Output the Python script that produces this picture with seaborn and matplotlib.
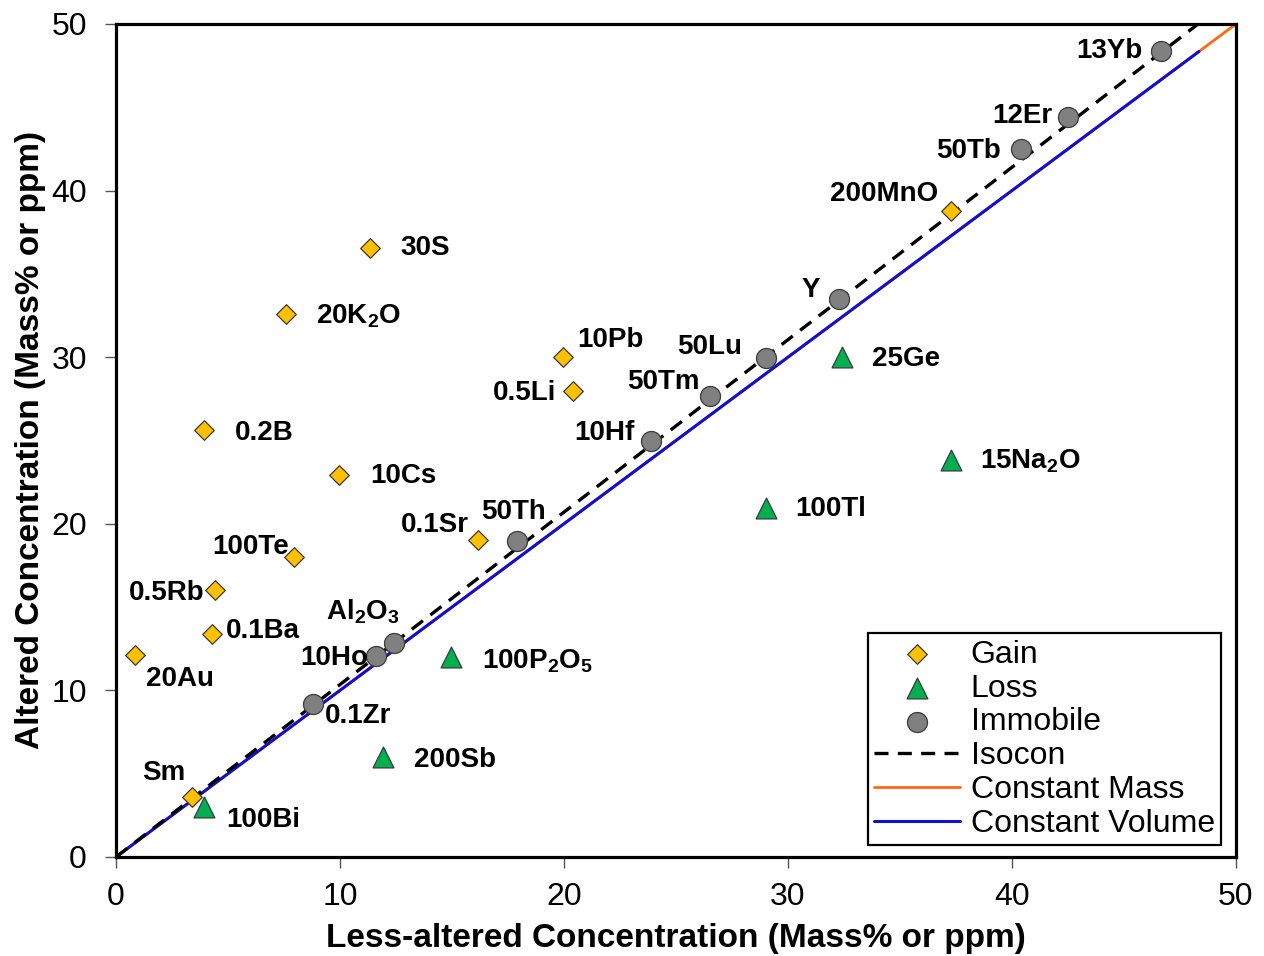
import matplotlib
matplotlib.use("Agg")
import matplotlib.pyplot as plt
import seaborn as sns
import pandas as pd

# ---- data -------------------------------------------------------------
gain_labels = ["30S", "20K$_2$O", "10Pb", "0.5Li", "0.2B", "10Cs", "0.1Sr",
               "100Te", "0.5Rb", "0.1Ba", "20Au", "Sm", "200MnO"]
gain_x = [11.35, 7.6, 19.95, 20.4, 3.93, 9.96, 16.16, 7.95, 4.42, 4.29, 0.85, 3.4, 37.3]
gain_y = [36.55, 32.6, 30.0, 27.97, 25.6, 22.9, 19.0, 18.0, 16.0, 13.4, 12.1, 3.6, 38.8]

loss_labels = ["25Ge", "15Na$_2$O", "100Tl", "100P$_2$O$_5$", "200Sb", "100Bi"]
loss_x = [32.4, 37.3, 29.0, 14.95, 11.9, 3.93]
loss_y = [30.0, 23.8, 20.95, 12.0, 6.0, 3.0]

immobile_labels = ["13Yb", "12Er", "50Tb", "Y", "50Lu", "50Tm", "10Hf",
                   "50Th", "Al$_2$O$_3$", "10Ho", "0.1Zr"]
immobile_x = [46.65, 42.5, 40.4, 32.3, 29.0, 26.5, 23.9, 17.9, 12.4, 11.6, 8.8]
immobile_y = [48.38, 44.4, 42.5, 33.5, 29.95, 27.67, 24.97, 18.97, 12.85, 12.06, 9.18]

isocon_slope = 1.035
isocon_x_end = 48.3
constant_mass_end = 50.0
constant_volume_end = 48.35

axis_ticks = [0, 10, 20, 30, 40, 50]

# ---- label placement (pixel offsets from each marker, alignment) --------
label_offsets = {
    "30S": (30, 0, "left"), "20K$_2$O": (30, -2, "left"), "10Pb": (14, 17, "left"),
    "0.5Li": (-17, -2, "right"), "0.2B": (31, -3, "left"), "10Cs": (31, -1, "left"),
    "0.1Sr": (-9, 15, "right"), "100Te": (-5, 10, "right"), "0.5Rb": (-11, -3, "right"),
    "0.1Ba": (14, 3, "left"), "20Au": (11, -24, "left"), "Sm": (-7, 24, "right"),
    "200MnO": (-13, 17, "right"),
    "25Ge": (30, -2, "left"), "15Na$_2$O": (29, -1, "left"), "100Tl": (30, -1, "left"),
    "100P$_2$O$_5$": (31, -4, "left"), "200Sb": (31, -3, "left"), "100Bi": (22, -13, "left"),
    "13Yb": (-18, 0, "right"), "12Er": (-16, 1, "right"), "50Tb": (-20, -2, "right"),
    "Y": (-19, 9, "right"), "50Lu": (-23, 11, "right"), "50Tm": (-10, 14, "right"),
    "10Hf": (-17, 8, "right"), "50Th": (-3, 29, "center"), "Al$_2$O$_3$": (6, 31, "right"),
    "10Ho": (-8, -2, "right"), "0.1Zr": (12, -12, "left"),
}

# ---- style ----------------------------------------------------------------
sns.set_style("ticks", {"axes.labelcolor": "black", "text.color": "black",
                        "xtick.color": "#555555", "ytick.color": "#555555"})
plt.rcParams["font.family"] = ["Liberation Sans", "DejaVu Sans"]
plt.rcParams["mathtext.fontset"] = "custom"
plt.rcParams["mathtext.rm"] = "Liberation Sans:bold"
plt.rcParams["mathtext.bf"] = "Liberation Sans:bold"
plt.rcParams["mathtext.default"] = "bf"

fig = plt.figure(figsize=(12.64, 9.56), dpi=100)
ax = fig.add_axes([0.0918, 0.1036, 0.9778 - 0.0918, 0.9749 - 0.1036])

gain_df = pd.DataFrame({"x": gain_x, "y": gain_y})
loss_df = pd.DataFrame({"x": loss_x, "y": loss_y})
imm_df = pd.DataFrame({"x": immobile_x, "y": immobile_y})

# reference lines
cm_df = pd.DataFrame({"x": [0, constant_mass_end], "y": [0, constant_mass_end]})
cv_df = pd.DataFrame({"x": [0, constant_volume_end], "y": [0, constant_volume_end]})
iso_df = pd.DataFrame({"x": [0, isocon_x_end], "y": [0, isocon_slope * isocon_x_end]})

sns.lineplot(data=cm_df, x="x", y="y", ax=ax, color="#FF6A13", lw=2.0,
             label="Constant Mass", zorder=2)
sns.lineplot(data=cv_df, x="x", y="y", ax=ax, color="#1010D0", lw=2.2,
             label="Constant Volume", zorder=3)
sns.lineplot(data=iso_df, x="x", y="y", ax=ax, color="black", lw=2.4,
             dashes=False, label="Isocon", zorder=4)
ax.lines[-1].set_linestyle((0, (4.2, 2.8)))

sns.scatterplot(data=gain_df, x="x", y="y", ax=ax, marker="D", s=10.0 ** 2,
                color="#FFC000", edgecolor="#3a3a3a", linewidth=0.9,
                label="Gain", zorder=5)
sns.scatterplot(data=loss_df, x="x", y="y", ax=ax, marker="^", s=15.0 ** 2,
                color="#00B050", edgecolor="#3a3a3a", linewidth=0.9,
                label="Loss", zorder=5)
sns.scatterplot(data=imm_df, x="x", y="y", ax=ax, marker="o", s=14.4 ** 2,
                color="#808080", edgecolor="#3a3a3a", linewidth=0.9,
                label="Immobile", zorder=5)

for labels, xs, ys in [(gain_labels, gain_x, gain_y),
                       (loss_labels, loss_x, loss_y),
                       (immobile_labels, immobile_x, immobile_y)]:
    for lab, xv, yv in zip(labels, xs, ys):
        dx, dy, ha = label_offsets[lab]
        ax.annotate(lab, (xv, yv), xytext=(dx, dy), textcoords="offset pixels",
                    ha=ha, va="center", fontsize=20, fontweight="bold",
                    color="black", zorder=6)

ax.set_xlim(0, 50)
ax.set_ylim(0, 50)
ax.set_xticks(axis_ticks)
ax.set_yticks(axis_ticks)
ax.tick_params(axis="both", direction="out", length=8, width=1.0,
               color="#555555", labelcolor="black", labelsize=23)
ax.tick_params(axis="x", pad=10)
ax.tick_params(axis="y", pad=13)
for sp in ax.spines.values():
    sp.set_linewidth(2.3)
    sp.set_color("black")

ax.set_xlabel("Less-altered Concentration (Mass% or ppm)", fontsize=24,
              fontweight="bold", labelpad=8)
ax.set_ylabel("Altered Concentration (Mass% or ppm)", fontsize=24,
              fontweight="bold", labelpad=4)

handles, labels = ax.get_legend_handles_labels()
order = ["Gain", "Loss", "Immobile", "Isocon", "Constant Mass", "Constant Volume"]
hmap = dict(zip(labels, handles))
leg = ax.legend([hmap[k] for k in order], order, loc="lower right",
                bbox_to_anchor=(0.987, 0.014), fontsize=23, frameon=True,
                fancybox=False, edgecolor="black", framealpha=1,
                handlelength=2.7, handletextpad=0.33, labelspacing=0.12,
                borderpad=0.2, borderaxespad=0)
leg.get_frame().set_linewidth(1.6)

fig.savefig("out.png", dpi=100)
